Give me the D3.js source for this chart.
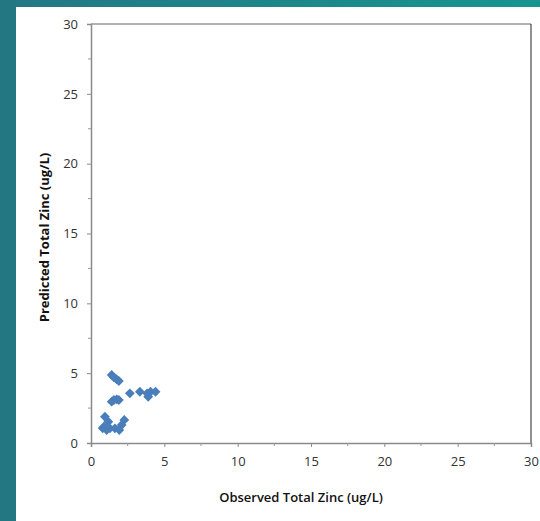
<!DOCTYPE html>
<html><head><meta charset="utf-8">
<script src="https://cdn.jsdelivr.net/npm/d3@7"></script>
<style>body{margin:0;background:#fff;}svg{display:block;}</style>
</head><body>
<script>
const observed = [1.41,1.56,1.75,1.90, 1.41,1.56,1.75,1.90, 2.65,3.33,3.83,3.90,4.06,4.40, 0.95,0.88,1.18,1.29,1.63,1.93,2.09,2.27,0.80,1.07];
const predicted = [4.87,4.70,4.56,4.44, 2.96,3.08,3.13,3.08, 3.56,3.67,3.56,3.31,3.67,3.67, 1.88,1.17,1.52,1.05,1.05,0.93,1.29,1.65,1.05,0.93];
const xTicks = [0,5,10,15,20,25,30];
const yTicks = [0,5,10,15,20,25,30];
const minorTicks = [2.5,7.5,12.5,17.5,22.5,27.5];
const xTitle = "Observed Total Zinc (ug/L)";
const yTitle = "Predicted Total Zinc (ug/L)";

const W=540,H=521;
const svg=d3.select("body").append("svg").attr("width",W).attr("height",H);
const defs=svg.append("defs");
const g=defs.append("linearGradient").attr("id","tg").attr("x1","0").attr("x2","1");
g.append("stop").attr("offset","0").attr("stop-color","#247784");
g.append("stop").attr("offset","1").attr("stop-color","#16958f");
svg.append("rect").attr("x",0).attr("y",0).attr("width",W).attr("height",7).attr("fill","url(#tg)");
svg.append("rect").attr("x",0).attr("y",0).attr("width",16).attr("height",H).attr("fill","#237783");

const L=91,R=531,T=24,B=443;
const x=d3.scaleLinear().domain([0,30]).range([L,R]);
const y=d3.scaleLinear().domain([0,30]).range([B,T]);

svg.append("line").attr("x1",L).attr("x2",R).attr("y1",T).attr("y2",T).attr("stroke","#666");
svg.append("line").attr("x1",R).attr("x2",R).attr("y1",T).attr("y2",B).attr("stroke","#222");

const font="'Open Sans', 'Noto Sans', sans-serif";
const xa=svg.append("g").attr("transform",`translate(0,${B})`)
  .call(d3.axisBottom(x).tickValues(xTicks).tickSize(4).tickPadding(10).tickFormat(d3.format("d")));
xa.append("g").selectAll("line").data(minorTicks).join("line")
  .attr("x1",d=>x(d)).attr("x2",d=>x(d)).attr("y1",0).attr("y2",3).attr("stroke","#999");
const ya=svg.append("g").attr("transform",`translate(${L},0)`)
  .call(d3.axisLeft(y).tickValues(yTicks).tickSize(4).tickPadding(9).tickFormat(d3.format("d")));
ya.append("g").selectAll("line").data(minorTicks).join("line")
  .attr("y1",d=>y(d)).attr("y2",d=>y(d)).attr("x1",0).attr("x2",-3).attr("stroke","#999");
[xa,ya].forEach(a=>{
  a.select(".domain").attr("stroke","#8a8a8a").attr("stroke-width",1.5);
  a.selectAll(".tick line").attr("stroke","#8a8a8a");
  a.selectAll("text").attr("font-family",font).attr("font-size",13).attr("fill","#333");
});

const sym=d3.symbol().type(d3.symbolSquare).size(48);
svg.append("g").selectAll("path").data(observed.map((o,i)=>[o,predicted[i]])).join("path")
  .attr("d",sym)
  .attr("transform",d=>`translate(${x(d[0])},${y(d[1])}) rotate(45)`)
  .attr("fill","#4a7ebb");

svg.append("text").attr("x",301).attr("y",502).attr("text-anchor","middle")
  .attr("font-family",font).attr("font-size",13).attr("font-weight",600).attr("fill","#111").text(xTitle);
svg.append("text").attr("transform",`translate(49,${(T+B)/2+4}) rotate(-90)`).attr("text-anchor","middle")
  .attr("font-family",font).attr("font-size",13).attr("font-weight",700).attr("fill","#111").text(yTitle);
</script>
</body></html>
